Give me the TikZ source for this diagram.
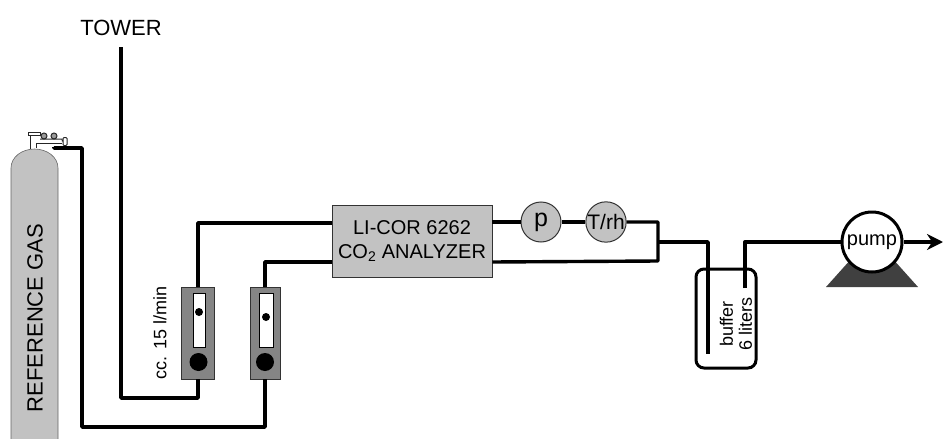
\documentclass[tikz,border=0pt]{standalone}
\usepackage{fontspec}
\setmainfont{Liberation Sans}
\usetikzlibrary{arrows.meta}
\tikzset{
  pipe/.style={line width=3.4pt, line join=round},
  thinpart/.style={draw=black!85, line width=1pt},
  gauge/.style={draw=black!80, line width=1pt, circle, fill=black!24, minimum size=40pt, inner sep=0pt, font=\fontsize{21}{23}\selectfont},
  meterbody/.style={draw=black!80, line width=.6pt, fill=black!48, minimum height=92pt, inner sep=0pt},
  meterwindow/.style={draw=black, line width=.8pt, fill=white, minimum height=54pt, inner sep=0pt},
  dot/.style={circle, fill=black, inner sep=0pt}
}
\begin{document}
\begin{tikzpicture}[x=1pt,y=-1pt]
\useasboundingbox (0,0) rectangle (943,439);
% gas cylinder
\draw[draw=black!60, line width=.6pt, fill=black!24] (11,439) -- (11,168) .. controls (11,157) and (22,149) .. (34.5,149) .. controls (47,149) and (58,157) .. (58,168) -- (58,439);
\node[rotate=90, font=\fontsize{22}{24}\selectfont] (gaslabel) at (35,318) {REFERENCE GAS};
% valve
\draw[thinpart] (30,149) -- (30,134);
\node[thinpart, fill=white, minimum width=12pt, minimum height=3pt, inner sep=0pt] (valvetop) at (34,133.5) {};
\node[thinpart, circle, fill=black!40, minimum size=6pt, inner sep=0pt] (valvea) at (44,136) {};
\node[thinpart, circle, fill=black!40, minimum size=6pt, inner sep=0pt] (valveb) at (54,136) {};
\draw[thinpart] (36,148) -- (36,143) -- (62,143);
\node[thinpart, fill=white, rounded corners=1pt, minimum width=4pt, minimum height=8pt, inner sep=0pt] (knob) at (65,141.5) {};
\draw[thinpart] (40,139) -- (62,139) -- (knob.west);
% flow meters
\node[meterbody, minimum width=33pt] (meterA) at (198,333) {};
\node[meterwindow, minimum width=12pt] (windowA) at (199,320) {};
\node[dot, minimum size=8pt] (floatA) at (199,312) {};
\node[dot, minimum size=18pt] (ballA) at (198.5,362) {};
\node[meterbody, minimum width=30pt] (meterB) at (265,333) {};
\node[meterwindow, minimum width=14pt] (windowB) at (266,320) {};
\node[dot, minimum size=8pt] (floatB) at (266,317) {};
\node[dot, minimum size=18pt] (ballB) at (265,362) {};
\node[rotate=90, font=\fontsize{18}{20}\selectfont] (flowlabel) at (160,333) {cc. 15 l/min};
% analyzer and sensors
\node[draw=black!80, line width=.6pt, fill=black!24, minimum width=160pt, minimum height=72pt, inner sep=0pt, align=center, font=\fontsize{20}{24}\selectfont] (analyzer) at (412,241) {LI-COR 6262\\CO\textsubscript{2} ANALYZER};
\node[gauge, font=\fontsize{25}{27}\selectfont] (p) at (541,222) {p};
\node[gauge] (trh) at (606,222) {T/rh};
% buffer
\node[draw, line width=3pt, rounded corners=8pt, minimum width=60pt, minimum height=99pt, inner sep=0pt] (buffer) at (726,318.5) {};
\node[rotate=90, align=center, font=\fontsize{18}{19}\selectfont] (bufferlabel) at (736,324) {buffer\\6 liters};
% pump
\path[fill=black!75] (826,287) -- (852,258) -- (892,258) -- (918,287) -- cycle;
\node[draw, line width=3pt, circle, fill=white, minimum size=60pt, inner sep=0pt, font=\fontsize{20}{22}\selectfont] (pump) at (872,242) {pump};
% free ends
\node[font=\fontsize{22}{24}\selectfont] (tower) at (121,28) {TOWER};
\coordinate (towerend) at (121,47);
\coordinate (gasout) at (54,147);
\coordinate (gasbend) at (54,148);
\coordinate (upin) at (332,223);
\coordinate (lowin) at (332,262);
\coordinate (join) at (658,242);
\coordinate (buftube) at (708,354);
\coordinate (pumptube) at (745,288);
\coordinate (outlet) at (943,242);
% pipes
\draw[pipe] (towerend) -- (121,398) -| (meterA.south);
\draw[pipe] (gasout) -- (gasbend) -- (82,148) -- (82,427) -| (meterB.south);
\draw[pipe] (meterA.north) |- (upin);
\draw[pipe] (meterB.north) |- (lowin);
\draw[pipe] (analyzer.east |- p) -- (p.west);
\draw[pipe] (p.east) -- (trh.west);
\draw[pipe] (trh.east) -- (658,222) -- (658,261) -- (analyzer.east |- lowin);
\draw[pipe] (join) -- (708,242) -- (buftube);
\draw[pipe] (pumptube) -- (745,242) -- (pump.west);
\draw[pipe, -{Stealth[length=16pt,width=16pt]}] (pump.east) -- (outlet);
\end{tikzpicture}
\end{document}
